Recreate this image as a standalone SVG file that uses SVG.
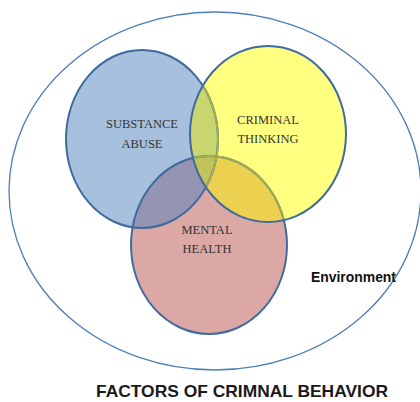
<svg xmlns="http://www.w3.org/2000/svg" width="420" height="402" viewBox="0 0 420 402">
  <style>
    .outer { fill: #ffffff; stroke: #4f7fb5; stroke-width: 1.3; }
    .edge { fill: none; stroke: #3f6b9e; stroke-width: 2; }
    .edge-tint { fill: none; stroke: #a2ad52; stroke-width: 2; }
    .lbl { font-family: "Liberation Serif", "Times New Roman", serif; font-size: 12.5px; fill: #333333; text-anchor: middle; }
    .env { font-family: "Liberation Sans", Arial, sans-serif; font-weight: bold; font-size: 15px; fill: #111111; }
    .title { font-family: "Liberation Sans", Arial, sans-serif; font-weight: bold; font-size: 16.5px; fill: #1a1a1a; }
  </style>
  <defs>
    <ellipse id="eBlue" cx="142" cy="139" rx="76" ry="89"/>
    <ellipse id="eYellow" cx="268" cy="134" rx="78" ry="88"/>
    <ellipse id="ePink" cx="209" cy="245" rx="78" ry="89"/>
    <clipPath id="cBlue"><use href="#eBlue"/></clipPath>
    <clipPath id="cYellow"><use href="#eYellow"/></clipPath>
    <clipPath id="cPink"><use href="#ePink"/></clipPath>
  </defs>
  <rect width="420" height="402" fill="#ffffff"/>

  <g id="environment">
    <ellipse class="outer" cx="215" cy="191" rx="206" ry="179"/>
    <text class="env" x="311" y="282" textLength="85" lengthAdjust="spacingAndGlyphs">Environment</text>
  </g>

  <g id="node-substance-abuse">
    <use href="#eBlue" fill="#a7c0dd"/>
  </g>
  <g id="node-criminal-thinking">
    <use href="#eYellow" fill="#ffff80"/>
  </g>
  <g id="node-mental-health">
    <use href="#ePink" fill="#dca8a6"/>
  </g>

  <g id="overlaps">
    <use href="#eYellow" fill="#c9d56e" clip-path="url(#cBlue)"/>
    <use href="#ePink" fill="#9594b3" clip-path="url(#cBlue)"/>
    <use href="#ePink" fill="#ecd050" clip-path="url(#cYellow)"/>
    <g clip-path="url(#cBlue)">
      <use href="#ePink" fill="#c3c35b" clip-path="url(#cYellow)"/>
    </g>
  </g>

  <g id="outlines">
    <use href="#eBlue" class="edge"/>
    <use href="#ePink" class="edge"/>
    <g clip-path="url(#cYellow)">
      <use href="#eBlue" class="edge-tint"/>
      <use href="#ePink" class="edge-tint"/>
    </g>
    <use href="#eYellow" class="edge"/>
  </g>

  <g id="labels">
    <text class="lbl" x="142" y="128">SUBSTANCE</text>
    <text class="lbl" x="142" y="148">ABUSE</text>
    <text class="lbl" x="268" y="124">CRIMINAL</text>
    <text class="lbl" x="268" y="143">THINKING</text>
    <text class="lbl" x="207" y="234">MENTAL</text>
    <text class="lbl" x="207" y="253">HEALTH</text>
  </g>

  <g id="title">
    <text class="title" x="96" y="397" textLength="292" lengthAdjust="spacingAndGlyphs">FACTORS OF CRIMNAL BEHAVIOR</text>
  </g>
</svg>
